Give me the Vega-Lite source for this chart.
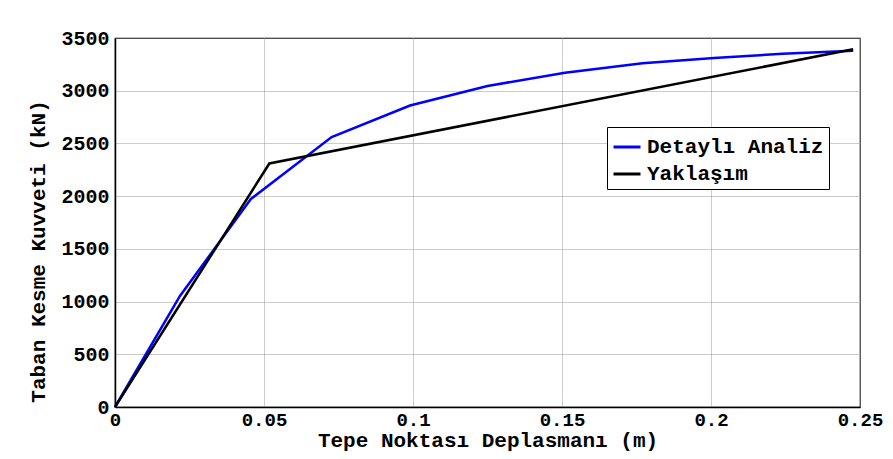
{
  "$schema": "https://vega.github.io/schema/vega-lite/v6.json",
  "width": 745,
  "height": 369,
  "autosize": {"type": "none"},
  "padding": {"left": 115, "top": 38, "right": 33, "bottom": 52},
  "background": "white",
  "config": {
    "view": {"stroke": "black", "strokeWidth": 1.2},
    "axis": {
      "domainColor": "black",
      "domainWidth": 1.5,
      "gridColor": "#999",
      "gridDash": [1, 1],
      "gridWidth": 1,
      "tickColor": "black",
      "tickSize": 0,
      "labelFont": "Liberation Mono",
      "labelFontWeight": "bold",
      "labelFontSize": 20,
      "labelColor": "black",
      "titleFont": "Liberation Mono",
      "titleFontWeight": "bold",
      "titleFontSize": 21,
      "titleColor": "black"
    },
    "legend": {
      "labelFont": "Liberation Mono",
      "labelFontWeight": "bold",
      "labelFontSize": 21,
      "labelColor": "black",
      "labelLimit": 0
    }
  },
  "data": {
    "values": [
      {"d": 0, "v": 0, "s": "Detaylı Analiz"},
      {"d": 0.0218, "v": 1053, "s": "Detaylı Analiz"},
      {"d": 0.0456, "v": 1973, "s": "Detaylı Analiz"},
      {"d": 0.0727, "v": 2560, "s": "Detaylı Analiz"},
      {"d": 0.0990, "v": 2860, "s": "Detaylı Analiz"},
      {"d": 0.1250, "v": 3045, "s": "Detaylı Analiz"},
      {"d": 0.1510, "v": 3170, "s": "Detaylı Analiz"},
      {"d": 0.1770, "v": 3260, "s": "Detaylı Analiz"},
      {"d": 0.2010, "v": 3310, "s": "Detaylı Analiz"},
      {"d": 0.2240, "v": 3350, "s": "Detaylı Analiz"},
      {"d": 0.2477, "v": 3380, "s": "Detaylı Analiz"},
      {"d": 0, "v": 0, "s": "Yaklaşım"},
      {"d": 0.0518, "v": 2310, "s": "Yaklaşım"},
      {"d": 0.2477, "v": 3393, "s": "Yaklaşım"}
    ]
  },
  "mark": {"type": "line", "strokeWidth": 2.5},
  "encoding": {
    "x": {
      "field": "d",
      "type": "quantitative",
      "scale": {"domain": [0, 0.25], "nice": false, "zero": false},
      "axis": {
        "values": [0, 0.05, 0.1, 0.15, 0.2, 0.25],
        "labelExpr": "datum.value == 0 ? '0' : format(datum.value, '.2~f')",
        "labelFontSize": 19,
        "labelPadding": 3,
        "labelFlush": false,
        "title": "Tepe Noktası Deplasmanı (m)",
        "titlePadding": 0
      }
    },
    "y": {
      "field": "v",
      "type": "quantitative",
      "scale": {"domain": [0, 3500], "nice": false},
      "axis": {
        "values": [0, 500, 1000, 1500, 2000, 2500, 3000, 3500],
        "format": "d",
        "labelPadding": 6,
        "labelFlush": false,
        "title": "Taban Kesme Kuvveti (kN)",
        "titlePadding": 12,
        "titleY": 213
      }
    },
    "color": {
      "field": "s",
      "type": "nominal",
      "scale": {"domain": ["Detaylı Analiz", "Yaklaşım"], "range": ["#0000ff", "#000000"]},
      "legend": {
        "title": null,
        "orient": "none",
        "legendX": 492,
        "legendY": 89,
        "strokeColor": "black",
        "fillColor": "white",
        "padding": 5,
        "symbolType": "stroke",
        "symbolStrokeWidth": 3,
        "symbolSize": 729,
        "rowPadding": 2,
        "labelOffset": 5
      }
    },
    "order": {"field": "d", "type": "quantitative"}
  }
}
